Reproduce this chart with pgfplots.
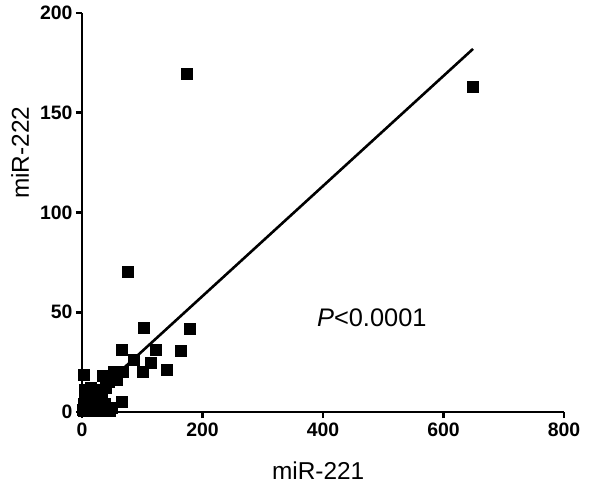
\documentclass[border=0pt]{standalone}
\usepackage{fontspec}
\setmainfont{Liberation Sans}
\usepackage{pgfplots}
\pgfplotsset{compat=1.18}
\begin{document}
\begin{tikzpicture}
\begin{axis}[
  scale only axis, width=482bp, height=399bp,
  xmin=0, xmax=800, ymin=0, ymax=200,
  axis lines=left, axis line style={-, line width=2.6bp},
  xtick={0,200,400,600,800}, ytick={0,50,100,150,200},
  tick align=outside, major tick length=6bp,
  every tick/.style={black, line width=2.6bp},
  /pgf/number format/assume math mode=true,
  /pgf/number format/1000 sep={},
  tick label style={font=\bfseries\fontsize{19.5}{21}\selectfont},
  xticklabel style={yshift=-1bp},
  xlabel={miR-221}, ylabel={miR-222},
  label style={font=\fontsize{24.5}{26}\selectfont},
  xlabel style={at={(rel axis cs:0.49,0)}, anchor=base, yshift=-67bp},
  ylabel style={at={(rel axis cs:0,0.65)}, anchor=center, yshift=62bp},
  clip=false,
]
\addplot[only marks, mark=square*, mark size=5.5bp, black] coordinates {
(649,163) (174,169.5) (76,70.5) (103,42.5) (179,42) (163,30.5) (123,31) (66,31)
(141,21) (114,24.5) (100,20) (85,26) (66,5) (2,18.5) (35,18) (52,20) (68,20)
(45,15) (57,16) (40,12)
(1,1) (2,4) (3,0.5) (4,6) (5,2) (6,9) (8,3) (9,0.5) (10,6) (12,2) (13,8) (15,4)
(16,1) (18,10) (20,5) (22,2) (24,7) (26,0.5) (28,9) (30,3) (32,6) (35,1) (38,4)
(42,2) (46,0.5) (50,2) (14,12) (25,11) (5,11)
};
\addplot[black, line width=2.6bp] coordinates {(0,2.9) (649,182)};
\node[font=\fontsize{25.5}{27}\selectfont] at (axis cs:481,47) {\textit{P}<0.0001};
\path (rel axis cs:0,0) ++(-82bp,-72bp) rectangle ++(602bp,484bp);
\end{axis}
\end{tikzpicture}
\end{document}
